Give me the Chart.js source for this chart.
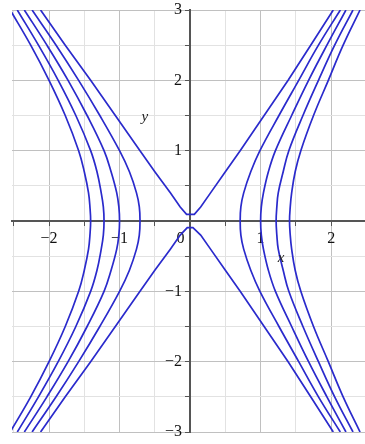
<!DOCTYPE html>
<html><head><meta charset="utf-8">
<script src="https://cdn.jsdelivr.net/npm/chart.js@4/dist/chart.umd.min.js"></script>
<style>html,body{margin:0;padding:0;background:#fff;} #wrap{width:365px;height:444px;position:relative;}</style>
</head><body><div id="wrap"><canvas id="c"></canvas></div>
<script>
// y levels at which each hyperbola branch is sampled
const yLevels = [-3,-2.5,-2,-1.5,-1,-0.7,-0.4,-0.2,0,0.2,0.4,0.7,1,1.5,2,2.5,3];
// left-opening branches (x values at each y level)
const leftC1 = [-2.24,-1.90,-1.58,-1.28,-1.00,-0.86,-0.76,-0.72,-0.71,-0.72,-0.76,-0.86,-1.00,-1.28,-1.58,-1.90,-2.24];
const leftC2 = [-2.35,-2.03,-1.73,-1.46,-1.22,-1.12,-1.04,-1.01,-1.00,-1.01,-1.04,-1.12,-1.22,-1.46,-1.73,-2.03,-2.35];
const leftC3 = [-2.45,-2.15,-1.87,-1.62,-1.41,-1.32,-1.26,-1.23,-1.22,-1.23,-1.26,-1.32,-1.41,-1.62,-1.87,-2.15,-2.45];
const leftC4 = [-2.55,-2.26,-2.00,-1.77,-1.58,-1.50,-1.44,-1.42,-1.41,-1.42,-1.44,-1.50,-1.58,-1.77,-2.00,-2.26,-2.55];
// right-opening branches
const rightC1 = [2.13,1.82,1.54,1.26,0.99,0.86,0.76,0.72,0.71,0.72,0.76,0.86,0.99,1.26,1.54,1.82,2.13];
const rightC2 = [2.21,1.94,1.68,1.44,1.21,1.11,1.04,1.01,1.00,1.01,1.04,1.11,1.21,1.44,1.68,1.94,2.21];
const rightC3 = [2.31,2.05,1.82,1.60,1.40,1.32,1.25,1.23,1.22,1.23,1.25,1.32,1.40,1.60,1.82,2.05,2.31];
const rightC4 = [2.41,2.17,1.96,1.75,1.57,1.49,1.44,1.42,1.41,1.42,1.44,1.49,1.57,1.75,1.96,2.17,2.41];
// level-zero contour, split into an upper and a lower piece near the origin
const centerTopX = [-2.12,-1.77,-1.41,-1.06,-0.71,-0.50,-0.28,-0.14,-0.05,0.06,0.15,0.29,0.50,0.71,1.05,1.39,1.71,2.03];
const centerTopY = [3,2.5,2,1.5,1,0.7,0.4,0.2,0.095,0.095,0.2,0.4,0.7,1,1.5,2,2.5,3];
const centerBotX = [-2.12,-1.77,-1.41,-1.06,-0.71,-0.50,-0.28,-0.14,-0.04,0.04,0.15,0.29,0.50,0.71,1.05,1.39,1.71,2.03];
const centerBotY = [-3,-2.5,-2,-1.5,-1,-0.7,-0.4,-0.2,-0.095,-0.095,-0.2,-0.4,-0.7,-1,-1.5,-2,-2.5,-3];
// tick labels
const xTickValues = [-2,-1,0,1,2];
const xTickLabels = ['\u22122','\u22121','0\u2003\u2009','1','2'];
const yTickValues = [-3,-2,-1,1,2,3];
const yTickLabels = ['\u22123\u2002','\u22122\u2002','\u22121\u2002','1\u2002','2\u2002','3\u2002'];

const LINE = '#2a2acc';
function pts(xs, ys){ return xs.map((x,i)=>({x:x, y:ys[i]})); }
const branches = [leftC1,leftC2,leftC3,leftC4,rightC1,rightC2,rightC3,rightC4];
const datasets = branches.map(xs => ({data: pts(xs, yLevels), borderColor: LINE, borderWidth: 1.7, pointRadius: 0, showLine: true, fill: false, tension: 0.4, clip: 0}));
datasets.push({data: pts(centerTopX, centerTopY), borderColor: LINE, borderWidth: 1.7, pointRadius: 0, showLine: true, fill: false, tension: 0, clip: 0});
datasets.push({data: pts(centerBotX, centerBotY), borderColor: LINE, borderWidth: 1.7, pointRadius: 0, showLine: true, fill: false, tension: 0, clip: 0});

function lab(values, labels, v){
  for (let i=0;i<values.length;i++) if (Math.abs(values[i]-v) < 1e-6) return labels[i];
  return '';
}
function gridColor(ctx){
  if (!ctx.tick) return '#e2e2e2';
  const v = ctx.tick.value;
  return Math.abs(v - Math.round(v)) < 1e-6 ? '#c0c0c0' : '#e2e2e2';
}
const FONT = {family: '"Liberation Serif", "DejaVu Serif", serif', size: 16};

const titles = {
  id: 'axisTitles',
  afterDraw(chart){
    const c = chart.ctx, xs = chart.scales.x, ys = chart.scales.y;
    c.save();
    c.fillStyle = '#222';
    c.font = 'italic 15px "Liberation Serif", serif';
    c.textAlign = 'center'; c.textBaseline = 'middle';
    c.fillText('y', xs.getPixelForValue(-0.64), ys.getPixelForValue(1.475));
    c.fillText('x', xs.getPixelForValue(1.29), ys.getPixelForValue(-0.53));
    c.restore();
  }
};

new Chart(document.getElementById('c'), {
  type: 'scatter',
  data: {datasets},
  options: {
    responsive: true, maintainAspectRatio: false, animation: false,
    layout: {padding: {left: 12, top: 10, right: 0, bottom: 12}},
    plugins: {legend: {display: false}, tooltip: {enabled: false}},
    scales: {
      x: {
        type: 'linear', min: -2.525, max: 2.48, position: {y: 0},
        ticks: {stepSize: 0.5, includeBounds: false, autoSkip: false, maxRotation: 0, color: '#111', font: FONT, padding: 4,
          callback: v => lab(xTickValues, xTickLabels, v)},
        grid: {color: gridColor, lineWidth: 1, tickLength: 4, tickColor: '#555', drawTicks: true},
        border: {display: true, color: '#555', width: 2}
      },
      y: {
        type: 'linear', min: -3, max: 3, position: {x: 0},
        ticks: {stepSize: 0.5, includeBounds: false, autoSkip: false, color: '#111', font: FONT, padding: 0,
          callback: v => lab(yTickValues, yTickLabels, v)},
        grid: {color: gridColor, lineWidth: 1, tickLength: 4, tickColor: '#555', drawTicks: true},
        border: {display: true, color: '#555', width: 2}
      }
    }
  },
  plugins: [titles]
});
</script></body></html>
